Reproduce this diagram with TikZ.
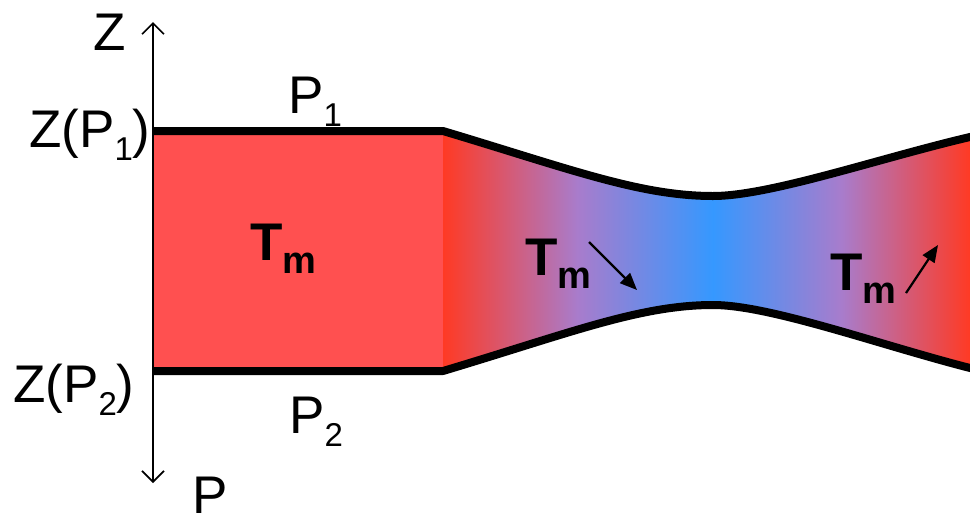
\documentclass[tikz,border=0pt]{standalone}
\usepackage{fontspec}
\setmainfont{Liberation Sans}
\usepackage{tikz}
\usetikzlibrary{arrows.meta}
\usepackage{xcolor}
\definecolor{slabred}{HTML}{FF5050}
\definecolor{hotred}{HTML}{FF3A24}
\definecolor{lavender}{HTML}{A87CCC}
\definecolor{coldblue}{HTML}{3598FF}
\newcommand\lowsub[2][33]{\raisebox{-0.25em}{\fontsize{#1}{#1}\selectfont #2}}

\begin{document}
\begin{tikzpicture}[x=1pt,y=-1pt,
      lbl/.style={inner sep=0pt,anchor=base west,font=\fontsize{53}{60}\selectfont},
      temp/.style={lbl,font=\fontsize{53}{60}\selectfont\bfseries},
      rim/.style={line width=8pt,line join=round},
      zaxisline/.style={line width=1.6pt,
        {Straight Barb[length=11pt,width=22pt]}-{Straight Barb[length=11pt,width=22pt]}},
      trend/.style={line width=2.2pt,-{Triangle[length=17pt,width=14pt]}}]
    \useasboundingbox (0,0) rectangle (970,512);
    \coordinate (ztop) at (153,22);
    \coordinate (pbot) at (153,483);
    % slab
    \fill[slabred] (153,131) rectangle (443,371);
    % converging neck, then widening again
    \shade[left color=hotred,right color=coldblue,middle color=lavender]
      (443,131) .. controls (570,169) and (640,196) .. (713,196)
      -- (713,305) .. controls (640,305) and (570,333) .. (443,371) -- cycle;
    \shade[left color=coldblue,right color=hotred,middle color=lavender]
      (713,196) .. controls (770,196) and (880,158) .. (970,137)
      -- (970,368) .. controls (880,345) and (770,305) .. (713,305) -- cycle;
    \draw[rim] (153,131) -- (443,131) .. controls (570,169) and (640,196) .. (713,196)
      .. controls (770,196) and (880,158) .. (970,137) -- (975,136);
    \draw[rim] (153,371) -- (443,371) .. controls (570,333) and (640,305) .. (713,305)
      .. controls (770,305) and (880,345) .. (970,368) -- (975,369);
    % axis
    \draw[zaxisline] (ztop) -- (pbot);
    \node[lbl] (zaxis) at (93,50) {Z};
    \node[lbl] (paxis) at (192,513) {P};
    \node[lbl] (zp1) at (29,147) {Z(P\lowsub{1})};
    \node[lbl] (zp2) at (13,402) {Z(P\lowsub{2})};
    \node[lbl] (p1) at (288,113) {P\lowsub{1}};
    \node[lbl] (p2) at (289,433) {P\lowsub{2}};
    \foreach \n/\x/\y in {tslab/250/260,tneck/525/275,texit/830/290}
      \node[temp] (\n) at (\x,\y) {T\lowsub[38]{m}};
    \coordinate (dn1) at (589,242);
    \coordinate (dn2) at (637,290);
    \coordinate (up1) at (906,293);
    \coordinate (up2) at (938,245);
    \draw[trend] (dn1) -- (dn2);
    \draw[trend] (up1) -- (up2);
  \end{tikzpicture}
\end{document}
